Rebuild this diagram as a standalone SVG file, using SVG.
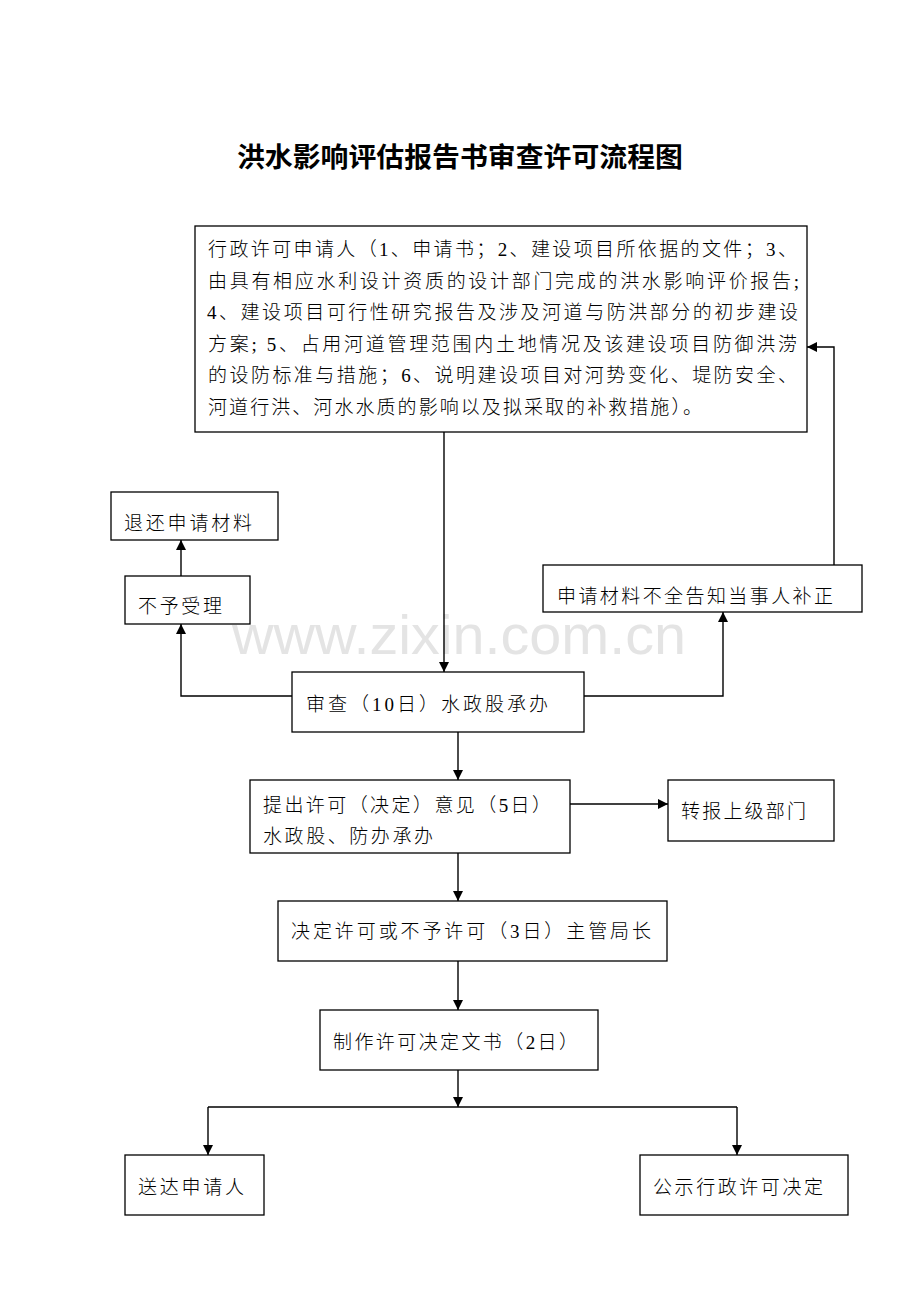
<svg xmlns="http://www.w3.org/2000/svg" width="920" height="1302" viewBox="0 0 920 1302">
<style>
.box{fill:#fff;stroke:#000;stroke-width:1.3}
.t{font-family:"Liberation Serif","Noto Sans CJK SC",serif;font-size:19px;font-weight:300;fill:#000}
.ln{fill:none;stroke:#000;stroke-width:1.4}
.wm{font-family:"Liberation Sans",Arial,sans-serif;font-size:56px;fill:#e4e4e4}
</style>
<defs>
<marker id="ah" viewBox="0 0 10 10" refX="10" refY="5" markerWidth="10" markerHeight="10" markerUnits="userSpaceOnUse" orient="auto">
<path d="M0,0 L10,5 L0,10 z" fill="#000"/>
</marker>
</defs>
<rect width="920" height="1302" fill="#fff"/>
<text x="460" y="167" text-anchor="middle" style="font-family:'Noto Sans CJK SC',sans-serif;font-size:27px;font-weight:bold" textLength="446" lengthAdjust="spacingAndGlyphs">洪水影响评估报告书审查许可流程图</text>
<text class="wm" x="232" y="654" textLength="454" lengthAdjust="spacingAndGlyphs">www.zixin.com.cn</text>
<g id="connectors">
<path class="ln" d="M444,432 V672" marker-end="url(#ah)"/>
<path class="ln" d="M292,696 H181 V624" marker-end="url(#ah)"/>
<path class="ln" d="M181,576 V540" marker-end="url(#ah)"/>
<path class="ln" d="M584,696 H723 V612" marker-end="url(#ah)"/>
<path class="ln" d="M834,565 V347 H807" marker-end="url(#ah)"/>
<path class="ln" d="M458,732 V780" marker-end="url(#ah)"/>
<path class="ln" d="M570,804 H668" marker-end="url(#ah)"/>
<path class="ln" d="M458,853 V901" marker-end="url(#ah)"/>
<path class="ln" d="M458,961 V1010" marker-end="url(#ah)"/>
<path class="ln" d="M458,1070 V1107" marker-end="url(#ah)"/>
<path class="ln" d="M208,1107 H737"/>
<path class="ln" d="M208,1107 V1155" marker-end="url(#ah)"/>
<path class="ln" d="M737,1107 V1155" marker-end="url(#ah)"/>
</g>
<g id="n_apply">
<rect class="box" x="195" y="226" width="612" height="206"/>
<text class="t" x="208" y="256" textLength="589" lengthAdjust="spacing">行政许可申请人（1、申请书；2、建设项目所依据的文件；3、</text>
<text class="t" x="208" y="288" textLength="591" lengthAdjust="spacing">由具有相应水利设计资质的设计部门完成的洪水影响评价报告;</text>
<text class="t" x="207" y="319" textLength="591" lengthAdjust="spacing">4、建设项目可行性研究报告及涉及河道与防洪部分的初步建设</text>
<text class="t" x="208" y="351" textLength="589" lengthAdjust="spacing">方案; 5、占用河道管理范围内土地情况及该建设项目防御洪涝</text>
<text class="t" x="208" y="382" textLength="589" lengthAdjust="spacing">的设防标准与措施；6、说明建设项目对河势变化、堤防安全、</text>
<text class="t" x="208" y="414" textLength="494" lengthAdjust="spacing">河道行洪、河水水质的影响以及拟采取的补救措施）。</text>
</g>
<g id="n_return">
<rect class="box" x="111" y="492" width="167" height="48"/>
<text class="t" x="124" y="530" textLength="128" lengthAdjust="spacing">退还申请材料</text>
</g>
<g id="n_reject">
<rect class="box" x="125" y="576" width="125" height="48"/>
<text class="t" x="138" y="613" textLength="84" lengthAdjust="spacing">不予受理</text>
</g>
<g id="n_supplement">
<rect class="box" x="543" y="565" width="319" height="47"/>
<text class="t" x="557" y="603" textLength="276" lengthAdjust="spacing">申请材料不全告知当事人补正</text>
</g>
<g id="n_review">
<rect class="box" x="292" y="672" width="292" height="60"/>
<text class="t" x="306" y="711" textLength="242" lengthAdjust="spacing">审查（10日）水政股承办</text>
</g>
<g id="n_opinion">
<rect class="box" x="250" y="780" width="320" height="73"/>
<text class="t" x="263" y="812" textLength="288" lengthAdjust="spacing">提出许可（决定）意见（5日）</text>
<text class="t" x="263" y="843" textLength="170" lengthAdjust="spacing">水政股、防办承办</text>
</g>
<g id="n_report">
<rect class="box" x="668" y="780" width="166" height="61"/>
<text class="t" x="681" y="818" textLength="125" lengthAdjust="spacing">转报上级部门</text>
</g>
<g id="n_decide">
<rect class="box" x="278" y="901" width="389" height="60"/>
<text class="t" x="291" y="938" textLength="360" lengthAdjust="spacing">决定许可或不予许可（3日）主管局长</text>
</g>
<g id="n_document">
<rect class="box" x="320" y="1010" width="278" height="60"/>
<text class="t" x="333" y="1049" textLength="245" lengthAdjust="spacing">制作许可决定文书（2日）</text>
</g>
<g id="n_deliver">
<rect class="box" x="125" y="1155" width="139" height="60"/>
<text class="t" x="138" y="1194" textLength="106" lengthAdjust="spacing">送达申请人</text>
</g>
<g id="n_publish">
<rect class="box" x="640" y="1155" width="208" height="60"/>
<text class="t" x="653" y="1194" textLength="170" lengthAdjust="spacing">公示行政许可决定</text>
</g>
</svg>
